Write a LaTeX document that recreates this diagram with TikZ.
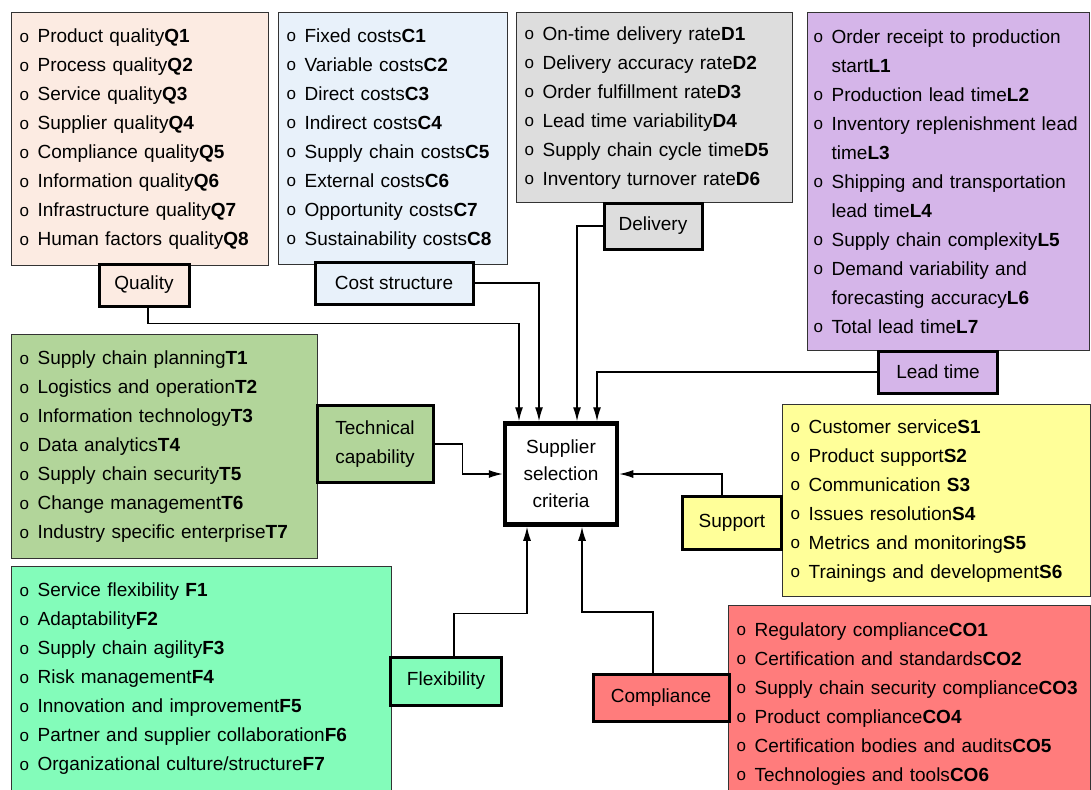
\documentclass[tikz,border=0pt]{standalone}
\usepackage{fontspec}
\setmainfont{Liberation Sans}
\usepackage{tikz}
\usetikzlibrary{arrows.meta,positioning}
\definecolor{qualityfill}{RGB}{252,235,226}
\definecolor{costfill}{RGB}{232,241,250}
\definecolor{deliveryfill}{RGB}{221,221,221}
\definecolor{leadfill}{RGB}{213,181,233}
\definecolor{technicalfill}{RGB}{178,213,154}
\definecolor{flexfill}{RGB}{131,252,186}
\definecolor{supportfill}{RGB}{255,255,153}
\definecolor{compliancefill}{RGB}{255,124,124}
\newcommand{\critdot}{\makebox[18pt][l]{\raisebox{0.5pt}{\fontsize{17pt}{29pt}\selectfont o}}}
\newcommand{\crit}[2]{\critdot#1\textbf{#2}}
\newcommand{\critwrap}{\hspace*{18pt}}
\tikzset{%
  listbox/.style={draw=black!80,line width=1.2pt,anchor=north west,align=left,inner xsep=8pt,inner ysep=0pt},
  tag/.style={draw,line width=3pt,align=center,inner sep=2pt},
  arrow/.style={-{Latex[length=14pt,width=8pt]}, line width=1.3pt}%
}

\begin{document}
\begin{tikzpicture}[
    x=1pt, y=-1pt,
    font=\fontsize{19pt}{29pt}\selectfont,
    hub/.style={
        draw,
        line width=4.5pt,
        align=center,
        minimum width=112pt,
        minimum height=101pt,
        font=\fontsize{19pt}{27pt}\selectfont
    }
]
\useasboundingbox (0,0) rectangle (1091,789);

% Lists
\node[listbox, fill=qualityfill, minimum width=257pt, minimum height=253pt, text width=241pt] (qualitylist) at (11,12)
  {\crit{Product quality}{Q1}\\ \crit{Process quality}{Q2}\\ \crit{Service quality}{Q3}\\ \crit{Supplier quality}{Q4}\\
   \crit{Compliance quality}{Q5}\\ \crit{Information quality}{Q6}\\ \crit{Infrastructure quality}{Q7}\\ \crit{Human factors quality}{Q8}};
\node[listbox, fill=costfill, minimum width=229pt, minimum height=252pt, text width=213pt] (costlist) at (278,12)
  {\crit{Fixed costs}{C1}\\ \crit{Variable costs}{C2}\\ \crit{Direct costs}{C3}\\ \crit{Indirect costs}{C4}\\
   \crit{Supply chain costs}{C5}\\ \crit{External costs}{C6}\\ \crit{Opportunity costs}{C7}\\ \crit{Sustainability costs}{C8}};
\node[listbox, fill=deliveryfill, minimum width=276pt, minimum height=190pt, text width=260pt] (deliverylist) at (516,12)
  {\crit{On-time delivery rate}{D1}\\ \crit{Delivery accuracy rate}{D2}\\ \crit{Order fulfillment rate}{D3}\\
   \crit{Lead time variability}{D4}\\ \crit{Supply chain cycle time}{D5}\\ \crit{Inventory turnover rate}{D6}};
\node[listbox, fill=leadfill, inner xsep=6pt, minimum width=282pt, minimum height=338pt, text width=270pt] (leadlist) at (807,12)
  {\critdot Order receipt to production\\ \critwrap start\textbf{L1}\\ \crit{Production lead time}{L2}\\
   \critdot Inventory replenishment lead\\ \critwrap time\textbf{L3}\\ \critdot Shipping and transportation\\ \critwrap lead time\textbf{L4}\\
   \crit{Supply chain complexity}{L5}\\ \critdot Demand variability and\\ \critwrap forecasting accuracy\textbf{L6}\\ \crit{Total lead time}{L7}};
\node[listbox, fill=technicalfill, minimum width=306pt, minimum height=224pt, text width=290pt] (technicallist) at (11,334)
  {\crit{Supply chain planning}{T1}\\ \crit{Logistics and operation}{T2}\\ \crit{Information technology}{T3}\\
   \crit{Data analytics}{T4}\\ \crit{Supply chain security}{T5}\\ \crit{Change management}{T6}\\ \crit{Industry specific enterprise}{T7}};
\node[listbox, fill=flexfill, minimum width=380pt, minimum height=224pt, text width=364pt] (flexlist) at (11,566)
  {\crit{Service flexibility }{F1}\\ \crit{Adaptability}{F2}\\ \crit{Supply chain agility}{F3}\\ \crit{Risk management}{F4}\\
   \crit{Innovation and improvement}{F5}\\ \crit{Partner and supplier collaboration}{F6}\\ \crit{Organizational culture/structure}{F7}};
\node[listbox, fill=supportfill, minimum width=308pt, minimum height=192pt, text width=292pt] (supportlist) at (782,404)
  {\crit{Customer service}{S1}\\ \crit{Product support}{S2}\\ \crit{Communication }{S3}\\ \crit{Issues resolution}{S4}\\
   \crit{Metrics and monitoring}{S5}\\ \crit{Trainings and development}{S6}};
\node[listbox, fill=compliancefill, minimum width=362pt, minimum height=196pt, text width=346pt] (compliancelist) at (728,605)
  {\crit{Regulatory compliance}{CO1}\\ \crit{Certification and standards}{CO2}\\ \crit{Supply chain security compliance}{CO3}\\
   \crit{Product compliance}{CO4}\\ \crit{Certification bodies and audits}{CO5}\\ \crit{Technologies and tools}{CO6}};

% Category tags
\node[tag, fill=qualityfill, minimum width=90pt, minimum height=42pt] (quality) at (144,285) {Quality};
\node[tag, fill=costfill, minimum width=158pt, minimum height=42pt] (cost) at (394,283) {Cost structure};
\node[tag, fill=deliveryfill, minimum width=98pt, minimum height=46pt] (delivery) at (653,226) {Delivery};
\node[tag, fill=leadfill, minimum width=119pt, minimum height=42pt] (leadtime) at (938,372) {Lead time};
\node[tag, fill=technicalfill, minimum width=116pt, minimum height=77pt] (technical) at (375,444) {Technical\\capability};
\node[tag, fill=supportfill, minimum width=99pt, minimum height=53pt] (support) at (732,523) {Support};
\node[tag, fill=flexfill, minimum width=111pt, minimum height=48pt] (flexibility) at (446,681) {Flexibility};
\node[tag, fill=compliancefill, minimum width=136pt, minimum height=47pt] (compliance) at (661,698) {Compliance};

% Centre
\node[hub] (criteria) at (561,474) {Supplier\\selection\\criteria};

% Arrows
\draw[arrow] ([xshift=4pt]quality.south) -- ++(0,16) -| ([xshift=-42pt]criteria.north);
\draw[arrow] (cost.east) -| ([xshift=-22pt]criteria.north);
\draw[arrow] (delivery.west) -| ([xshift=16pt]criteria.north);
\draw[arrow] (leadtime.west) -| ([xshift=36pt]criteria.north);
\draw[arrow] (technical.east) -- ++(28,0) |- (criteria.west);
\draw[arrow] ([xshift=-10pt]support.north) |- (criteria.east);
\draw[arrow] ([xshift=8pt]flexibility.north) -- ++(0,-42) -| ([xshift=-34pt]criteria.south);
\draw[arrow] ([xshift=-8pt]compliance.north) -- ++(0,-61) -| ([xshift=21pt]criteria.south);

\end{tikzpicture}
\end{document}
